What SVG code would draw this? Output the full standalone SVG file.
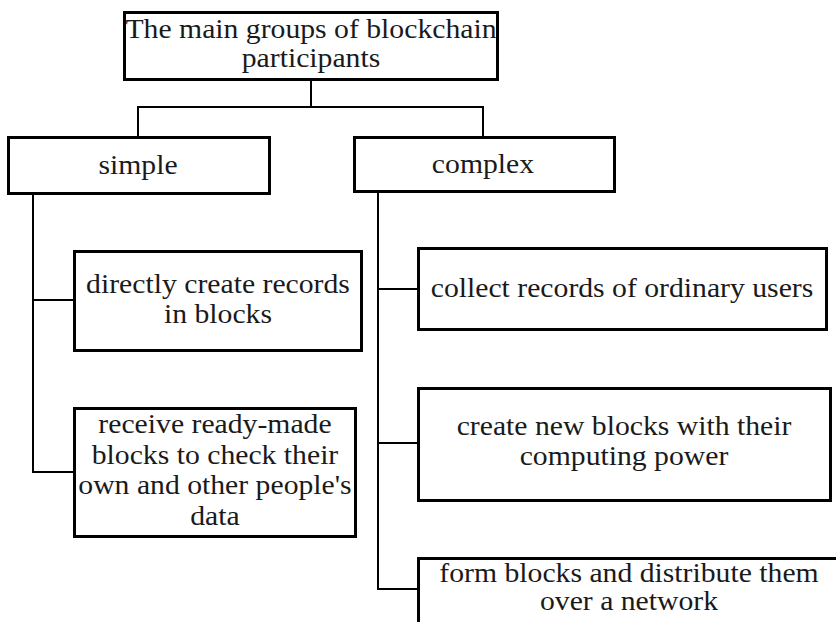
<svg xmlns="http://www.w3.org/2000/svg" width="836" height="622" viewBox="0 0 836 622">
<style>
.box{fill:#fff;stroke:#000;stroke-width:3}
.con{fill:none;stroke:#000;stroke-width:2;stroke-linejoin:miter;stroke-linecap:square}
text{font-family:"Liberation Serif","Times New Roman",serif;font-size:27px;fill:#1a1a1a;text-anchor:middle}
</style>
<rect width="836" height="622" fill="#fff"/>
<g id="connectors">
<path class="con" d="M311 81V107M138 136V107H483V136"/>
<path class="con" d="M33 195V472H73M33 300H73"/>
<path class="con" d="M378 193V589H417M378 289H417M378 443H417"/>
</g>
<g id="root">
<rect class="box" x="124.5" y="12.5" width="373" height="67"/>
<text transform="translate(311,38) scale(1.1,1)">The main groups of blockchain</text>
<text transform="translate(311,67) scale(1.1,1)">participants</text>
</g>
<g id="simple">
<rect class="box" x="8.5" y="137.5" width="261" height="56"/>
<text transform="translate(138,174) scale(1.1,1)">simple</text>
</g>
<g id="complex">
<rect class="box" x="354.5" y="137.5" width="260" height="54"/>
<text transform="translate(483,173) scale(1.1,1)">complex</text>
</g>
<g id="directly">
<rect class="box" x="74.5" y="251.5" width="287" height="99"/>
<text transform="translate(218,293) scale(1.1,1)">directly create records</text>
<text transform="translate(218,323) scale(1.1,1)">in blocks</text>
</g>
<g id="receive">
<rect class="box" x="74.5" y="408.5" width="281" height="128"/>
<text transform="translate(215,433) scale(1.1,1)">receive ready-made</text>
<text transform="translate(215,464) scale(1.1,1)">blocks to check their</text>
<text transform="translate(215,494) scale(1.1,1)">own and other people's</text>
<text transform="translate(215,525) scale(1.1,1)">data</text>
</g>
<g id="collect">
<rect class="box" x="418.5" y="248.5" width="408" height="81"/>
<text transform="translate(622,297) scale(1.1,1)">collect records of ordinary users</text>
</g>
<g id="create">
<rect class="box" x="418.5" y="388.5" width="412" height="112"/>
<text transform="translate(624,435) scale(1.1,1)">create new blocks with their</text>
<text transform="translate(624,465) scale(1.1,1)">computing power</text>
</g>
<g id="form">
<rect class="box" x="418.5" y="558.5" width="430" height="80"/>
<text transform="translate(629,582) scale(1.1,1)">form blocks and distribute them</text>
<text transform="translate(629,610) scale(1.1,1)">over a network</text>
</g>
</svg>
